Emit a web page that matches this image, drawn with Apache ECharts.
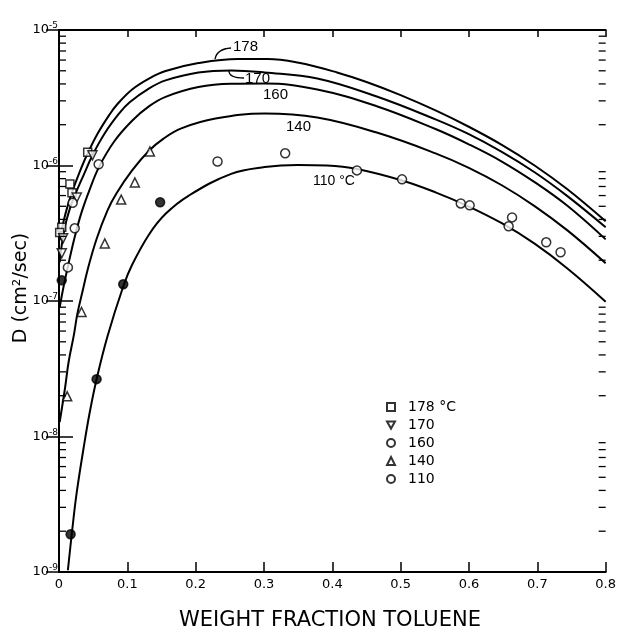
<!DOCTYPE html>
<html>
<head>
<meta charset="utf-8">
<script src="https://cdn.jsdelivr.net/npm/echarts@6/dist/echarts.min.js"></script>
</head>
<body style="margin:0;background:#fff">
<div id="container" style="width:619px;height:630px"></div>
<script>
// fitted curves (x = weight fraction, D in cm2/sec)
var c178X = [0.001,0.006,0.012,0.019,0.030,0.040,0.056,0.074,0.085,0.107,0.132,0.156,0.204,0.262,0.305,0.349,0.407,0.450,0.499,0.551,0.599,0.648,0.696,0.744,0.800];
var c178D = [2.8e-7,3.74e-7,4.91e-7,6.34e-7,8.9e-7,1.17e-6,1.70e-6,2.38e-6,2.82e-6,3.64e-6,4.39e-6,4.98e-6,5.7e-6,6.11e-6,6.11e-6,5.75e-6,4.86e-6,4.13e-6,3.32e-6,2.55e-6,1.94e-6,1.42e-6,1.0e-6,6.67e-7,3.87e-7];

var c170X = [0.001,0.004,0.009,0.016,0.023,0.036,0.049,0.067,0.088,0.103,0.132,0.156,0.204,0.252,0.301,0.378,0.465,0.551,0.599,0.648,0.696,0.744,0.800];
var c170D = [1.93e-7,2.58e-7,3.6e-7,4.83e-7,6.0e-7,8.5e-7,1.19e-6,1.73e-6,2.42e-6,2.92e-6,3.71e-6,4.25e-6,4.86e-6,5.03e-6,4.86e-6,4.39e-6,3.23e-6,2.19e-6,1.71e-6,1.26e-6,8.91e-7,5.94e-7,3.5e-7];

var c160X = [0.001,0.007,0.013,0.023,0.033,0.045,0.059,0.081,0.107,0.132,0.156,0.204,0.252,0.301,0.378,0.465,0.551,0.599,0.648,0.696,0.744,0.800];
var c160D = [8.98e-8,1.30e-7,1.80e-7,2.97e-7,4.51e-7,6.67e-7,9.85e-7,1.51e-6,2.14e-6,2.74e-6,3.21e-6,3.79e-6,4.01e-6,4.03e-6,3.64e-6,2.74e-6,1.86e-6,1.44e-6,1.07e-6,7.54e-7,5.04e-7,2.85e-7];

var c140X = [0.001,0.009,0.014,0.022,0.027,0.035,0.042,0.055,0.071,0.084,0.107,0.132,0.153,0.179,0.229,0.301,0.378,0.465,0.551,0.599,0.648,0.696,0.744,0.800];
var c140D = [1.28e-8,2.31e-8,3.53e-8,5.70e-8,8.11e-8,1.21e-7,1.71e-7,2.87e-7,4.67e-7,6.22e-7,9.2e-7,1.29e-6,1.58e-6,1.88e-6,2.22e-6,2.42e-6,2.26e-6,1.75e-6,1.23e-6,9.65e-7,7.15e-7,5.02e-7,3.32e-7,1.90e-7];

var c110X = [0.013,0.019,0.026,0.038,0.045,0.055,0.071,0.094,0.107,0.132,0.156,0.190,0.252,0.301,0.349,0.392,0.436,0.502,0.551,0.599,0.648,0.696,0.744,0.800];
var c110D = [1.03e-9,1.97e-9,3.88e-9,9.47e-9,1.51e-8,2.65e-8,5.5e-8,1.28e-7,1.85e-7,3.11e-7,4.40e-7,6.0e-7,8.67e-7,9.73e-7,1.01e-6,1.0e-6,9.42e-7,7.75e-7,6.34e-7,5.0e-7,3.75e-7,2.65e-7,1.74e-7,9.89e-8];

// measured points
var p178X = [0.042,0.016,0.019,0.004,0.001];
var p178D = [1.25e-6,7.3e-7,6.3e-7,3.5e-7,3.2e-7];
var p170X = [0.049,0.026,0.006,0.004];
var p170D = [1.19e-6,5.8e-7,2.9e-7,2.25e-7];
var p160X = [0.058,0.020,0.023,0.013];
var p160D = [1.02e-6,5.3e-7,3.44e-7,1.77e-7];
var p140X = [0.133,0.111,0.091,0.067,0.033,0.012];
var p140D = [1.27e-6,7.5e-7,5.6e-7,2.66e-7,8.3e-8,1.98e-8];
var p110X = [0.232,0.331,0.436,0.502,0.588,0.601,0.663,0.658,0.713,0.734];
var p110D = [1.07e-6,1.23e-6,9.2e-7,7.9e-7,5.25e-7,5.08e-7,4.14e-7,3.56e-7,2.71e-7,2.29e-7];
var p110fX = [0.004,0.094,0.148,0.055,0.017];
var p110fD = [1.42e-7,1.33e-7,5.35e-7,2.65e-8,1.9e-9];

var legendNames = ['178 °C', '170', '160', '140', '110'];
var yDecades = [1e-9, 1e-8, 1e-7, 1e-6];
var yMinorSteps = [2, 3, 4, 5, 6, 7, 8, 9];

var downTriangle = 'path://M0,0L10,0L5,9Z';

function zip(xs, ys) {
    return xs.map(function (x, i) { return [x, ys[i]]; });
}

var minorTicks = [];
yDecades.forEach(function (d) {
    yMinorSteps.forEach(function (m) { minorTicks.push([0, d * m]); });
});

var dom = document.getElementById('container');
var myChart = echarts.init(dom);

function curve(name, xs, ys) {
    return {
        type: 'line', name: name, data: zip(xs, ys), smooth: 0.4,
        showSymbol: false, silent: true, z: 2,
        lineStyle: { color: '#000', width: 2 }
    };
}
function points(name, xs, ys, symbol, filled) {
    return {
        type: 'scatter', name: name, data: zip(xs, ys), symbol: symbol,
        symbolSize: symbol === 'rect' ? 8 : 9, z: 3,
        itemStyle: { color: filled ? '#000' : '#fff', borderColor: '#000', borderWidth: 1.5 }
    };
}

var tickStyle = { color: '#000', width: 1.5 };
var option = {
    animation: false,
    backgroundColor: '#fff',
    grid: { left: 59, right: 7, top: 30, bottom: 58 },
    legend: {
        orient: 'vertical', left: 381, top: 395, itemWidth: 8, itemHeight: 8, itemGap: 4,
        data: legendNames,
        textStyle: { fontSize: 14, color: '#000', fontFamily: 'DejaVu Sans', padding: [0, 0, 0, 8] }
    },
    xAxis: [{
        type: 'value', min: 0, max: 0.8, interval: 0.1,
        axisLine: { lineStyle: { color: '#000', width: 2 } },
        axisTick: { inside: true, length: 10, lineStyle: tickStyle },
        splitLine: { show: false },
        axisLabel: {
            margin: 6, color: '#000', fontSize: 13, fontFamily: 'DejaVu Sans',
            formatter: function (v) { return v === 0 ? '0' : v.toFixed(1); }
        }
    }, {
        type: 'value', position: 'top', min: 0, max: 0.8, interval: 0.1,
        axisLine: { lineStyle: { color: '#000', width: 2 } },
        axisTick: { inside: true, length: 7, lineStyle: tickStyle },
        splitLine: { show: false }, axisLabel: { show: false }
    }],
    yAxis: [{
        type: 'log', logBase: 10, min: 1e-9, max: 1e-5, splitNumber: 4,
        axisLine: { lineStyle: { color: '#000', width: 2 } },
        axisTick: { inside: true, length: 14, lineStyle: tickStyle },
        splitLine: { show: false },
        axisLabel: {
            margin: 1, color: '#000',
            formatter: function (v) {
                return '{b|10}{s|' + Math.round(Math.log10(v)) + '}';
            },
            rich: {
                b: { fontSize: 13, fontFamily: 'DejaVu Sans', color: '#000' },
                s: { fontSize: 9, fontFamily: 'DejaVu Sans', color: '#000', padding: [0, 0, 8, 0] }
            }
        }
    }, {
        type: 'log', logBase: 10, min: 1e-9, max: 1e-5, splitNumber: 4, position: 'right',
        axisLine: { lineStyle: { color: '#000', width: 2 } },
        axisTick: { inside: true, length: 13, lineStyle: tickStyle },
        splitLine: { show: false }, axisLabel: { show: false }
    }],
    graphic: [
        { type: 'text', x: 21, y: 288, rotation: Math.PI / 2,
          style: { text: 'D (cm²/sec)', fontSize: 19, fontFamily: 'DejaVu Sans', fill: '#000', align: 'center', verticalAlign: 'middle' } },
        { type: 'text', x: 330, y: 621,
          style: { text: 'WEIGHT FRACTION TOLUENE', fontSize: 21, fontFamily: 'DejaVu Sans', fill: '#000', align: 'center', verticalAlign: 'middle' } },
        { type: 'text', x: 233, y: 47, style: { text: '178', fontSize: 15, fontFamily: 'Liberation Sans', fill: '#000', verticalAlign: 'middle' } },
        { type: 'text', x: 245, y: 79, style: { text: '170', fontSize: 15, fontFamily: 'Liberation Sans', fill: '#000', verticalAlign: 'middle' } },
        { type: 'text', x: 263, y: 95, style: { text: '160', fontSize: 15, fontFamily: 'Liberation Sans', fill: '#000', verticalAlign: 'middle' } },
        { type: 'text', x: 286, y: 127, style: { text: '140', fontSize: 15, fontFamily: 'Liberation Sans', fill: '#000', verticalAlign: 'middle' } },
        { type: 'text', x: 313, y: 181, style: { text: '110 °C', fontSize: 14, fontFamily: 'Liberation Sans', fill: '#000', verticalAlign: 'middle' } },
        { type: 'bezierCurve', shape: { x1: 215, y1: 59, cpx1: 217, cpy1: 49, x2: 231, y2: 48 },
          style: { stroke: '#000', lineWidth: 1.3, fill: null } },
        { type: 'bezierCurve', shape: { x1: 229, y1: 71, cpx1: 229, cpy1: 78, x2: 244, y2: 78 },
          style: { stroke: '#000', lineWidth: 1.3, fill: null } }
    ],
    series: [
        curve('c178', c178X, c178D),
        curve('c170', c170X, c170D),
        curve('c160', c160X, c160D),
        curve('c140', c140X, c140D),
        curve('c110', c110X, c110D),
        points('178 °C', p178X, p178D, 'rect', false),
        points('170', p170X, p170D, downTriangle, false),
        points('160', p160X, p160D, 'circle', false),
        points('140', p140X, p140D, 'triangle', false),
        points('110', p110X, p110D, 'circle', false),
        points('110 filled', p110fX, p110fD, 'circle', true),
        {
            type: 'custom', silent: true, z: 4, clip: false,
            data: minorTicks,
            renderItem: function (params, api) {
                var p = api.coord([0, api.value(1)]);
                var cs = params.coordSys;
                var st = { stroke: '#000', lineWidth: 1.3 };
                return {
                    type: 'group', children: [
                        { type: 'line', shape: { x1: cs.x, y1: p[1], x2: cs.x + 7, y2: p[1] }, style: st },
                        { type: 'line', shape: { x1: cs.x + cs.width, y1: p[1], x2: cs.x + cs.width - 7, y2: p[1] }, style: st }
                    ]
                };
            }
        }
    ]
};

myChart.setOption(option);
</script>
</body>
</html>
